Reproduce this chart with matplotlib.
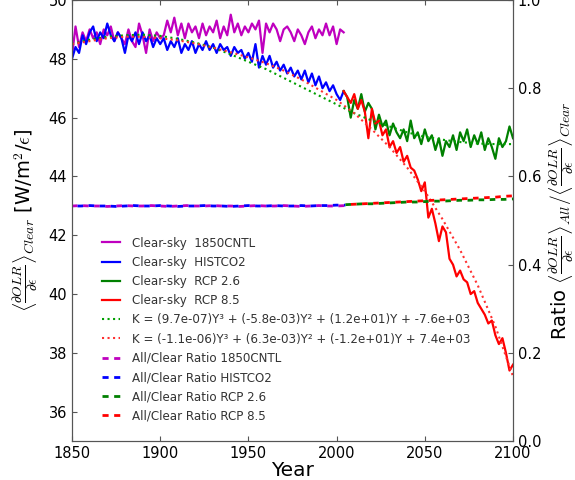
import numpy as np
import matplotlib.pyplot as plt

# clear-sky feedback (2-year steps)
years_hist = np.arange(1850, 2006, 2)
cntl_clear = [48.1, 49.1, 48.4, 48.9, 48.6, 49.0, 48.7, 48.9, 48.5, 49.0,
              48.8, 49.1, 48.6, 48.9, 48.7, 48.5, 49.0, 48.6, 48.4, 49.2,
              48.8, 48.2, 49.0, 48.6, 48.9, 48.7, 48.8, 49.3, 48.9, 49.4,
              48.8, 49.2, 48.7, 49.2, 48.9, 49.1, 48.7, 49.2, 48.8, 49.1,
              48.9, 49.3, 48.7, 49.1, 48.8, 49.5, 48.9, 49.2, 48.8, 49.1,
              48.9, 49.2, 49.0, 49.3, 48.2, 49.2, 48.9, 49.2, 49.0, 48.6,
              49.0, 49.1, 48.9, 48.6, 49.0, 48.8, 48.5, 48.9, 49.1, 48.7,
              49.0, 48.8, 49.2, 48.8, 49.1, 48.5, 49.0, 48.9]
hist_clear = [48.0, 48.4, 48.2, 48.8, 48.5, 48.9, 49.1, 48.6, 48.9, 48.7,
              49.2, 48.8, 48.6, 48.9, 48.7, 48.2, 48.8, 48.6, 48.9, 48.5,
              48.9, 48.6, 48.8, 48.4, 48.7, 48.5, 48.7, 48.3, 48.6, 48.4,
              48.7, 48.2, 48.5, 48.3, 48.6, 48.2, 48.5, 48.3, 48.6, 48.3,
              48.5, 48.2, 48.5, 48.3, 48.4, 48.1, 48.4, 48.2, 48.3, 48.0,
              48.2, 47.9, 48.5, 47.7, 48.1, 47.8, 48.1, 47.7, 47.9, 47.6,
              47.8, 47.5, 47.7, 47.4, 47.6, 47.3, 47.6, 47.2, 47.5, 47.1,
              47.4, 47.0, 47.2, 46.9, 47.1, 46.8, 46.6, 46.9]

years_rcp = np.arange(2004, 2101, 2)
rcp26_clear = [46.9, 46.7, 46.0, 46.6, 46.3, 46.8, 46.2, 46.5, 46.3, 45.6,
               46.1, 45.7, 45.9, 45.4, 45.8, 45.5, 45.3, 45.6, 45.2, 45.9,
               45.3, 45.5, 45.1, 45.6, 45.2, 45.4, 44.9, 45.3, 44.7, 45.2,
               45.0, 45.4, 44.9, 45.5, 45.2, 45.6, 45.0, 45.4, 45.1, 45.5,
               44.9, 45.3, 45.0, 44.6, 45.3, 45.0, 45.2, 45.7, 45.3]
rcp85_clear = [46.9, 46.7, 46.5, 46.8, 46.3, 46.6, 46.2, 45.3, 46.3, 45.8,
               45.9, 45.4, 45.6, 45.0, 45.2, 44.8, 45.0, 44.5, 44.7, 44.3,
               44.2, 43.9, 43.5, 43.8, 42.6, 42.9, 42.4, 41.8, 42.3, 42.1,
               41.2, 41.0, 40.6, 40.8, 40.5, 40.4, 40.0, 40.1, 39.7, 39.5,
               39.3, 39.0, 39.1, 38.6, 38.3, 38.5, 38.0, 37.4, 37.6]

# cubic fits (10-year steps)
years_fit = np.arange(1850, 2101, 10)
fit26 = [48.5, 48.65, 48.75, 48.8, 48.82, 48.78, 48.68, 48.55, 48.38, 48.15,
         47.9, 47.65, 47.35, 47.05, 46.75, 46.45, 46.15, 45.9, 45.7, 45.5,
         45.35, 45.25, 45.17, 45.12, 45.1, 45.1]
fit85 = [48.5, 48.6, 48.7, 48.75, 48.75, 48.7, 48.63, 48.52, 48.38, 48.22,
         48.05, 47.85, 47.6, 47.3, 46.95, 46.6, 46.15, 45.6, 45.0, 44.3,
         43.5, 42.55, 41.5, 40.3, 38.9, 37.2]
fit26_label = 'K = (9.7e-07)Y³ + (-5.8e-03)Y² + (1.2e+01)Y + -7.6e+03'
fit85_label = 'K = (-1.1e-06)Y³ + (6.3e-03)Y² + (-1.2e+01)Y + 7.4e+03'

# all/clear ratio (5-year steps)
years_ratio_hist = np.arange(1850, 2006, 5)
cntl_ratio = [0.533, 0.534, 0.533, 0.533, 0.532, 0.533, 0.534, 0.533,
              0.533, 0.534, 0.533, 0.532, 0.533, 0.534, 0.533, 0.533,
              0.534, 0.533, 0.533, 0.532, 0.533, 0.534, 0.533, 0.533,
              0.534, 0.533, 0.532, 0.533, 0.534, 0.533, 0.533, 0.534]
hist_ratio = [0.533, 0.533, 0.534, 0.533, 0.533, 0.532, 0.533, 0.534,
              0.533, 0.533, 0.534, 0.533, 0.532, 0.533, 0.533, 0.534,
              0.533, 0.533, 0.532, 0.533, 0.534, 0.533, 0.533, 0.534,
              0.533, 0.533, 0.534, 0.533, 0.534, 0.534, 0.535, 0.535]
years_ratio_rcp = np.arange(2005, 2101, 5)
rcp26_ratio = [0.536, 0.537, 0.538, 0.538, 0.539, 0.540, 0.541, 0.542, 0.542, 0.543,
               0.544, 0.544, 0.545, 0.546, 0.546, 0.547, 0.547, 0.548, 0.548, 0.549]
rcp85_ratio = [0.536, 0.537, 0.538, 0.539, 0.540, 0.541, 0.542, 0.543, 0.544, 0.545,
               0.546, 0.547, 0.548, 0.549, 0.550, 0.551, 0.552, 0.553, 0.555, 0.556]

fig = plt.figure(figsize=(5.75, 4.8), dpi=100)
ax = fig.add_axes([0.1252, 0.081, 0.767, 0.919])
ax2 = ax.twinx()

lw = 1.6
h1, = ax.plot(years_hist, cntl_clear, color='#bf00bf', lw=lw, label='Clear-sky  1850CNTL')
h2, = ax.plot(years_hist, hist_clear, color='#0000ff', lw=lw, label='Clear-sky  HISTCO2')
h3, = ax.plot(years_rcp, rcp26_clear, color='#008000', lw=lw, label='Clear-sky  RCP 2.6')
h4, = ax.plot(years_rcp, rcp85_clear, color='#ff0000', lw=lw, label='Clear-sky  RCP 8.5')
h5, = ax.plot(years_fit, fit26, color='#00a000', lw=1.5, ls=':', label=fit26_label)
h6, = ax.plot(years_fit, fit85, color='#ff3030', lw=1.5, ls=':', label=fit85_label)

# ratio dashes offset so overlapping series interleave
h7, = ax2.plot(years_ratio_hist, cntl_ratio, color='#bf00bf', lw=2, ls=(0, (2, 2)),
               label='All/Clear Ratio 1850CNTL')
h8, = ax2.plot(years_ratio_hist, hist_ratio, color='#0000ff', lw=2, ls=(2, (2, 2)),
               label='All/Clear Ratio HISTCO2')
h9, = ax2.plot(years_ratio_rcp, rcp26_ratio, color='#008000', lw=2, ls=(0, (2, 2)),
               label='All/Clear Ratio RCP 2.6')
h10, = ax2.plot(years_ratio_rcp, rcp85_ratio, color='#ff0000', lw=2, ls=(2, (2, 2)),
                label='All/Clear Ratio RCP 8.5')

ax.set_xlim(1850, 2100)
ax.set_ylim(35, 50)
ax2.set_ylim(0, 1)
ax.set_xticks(range(1850, 2101, 50))
ax.set_yticks(range(36, 51, 2))
ax2.set_yticks(np.arange(0, 1.01, 0.2))

ax.tick_params(direction='in', labelsize=10.5, top=True, color='#555555')
ax2.tick_params(direction='in', labelsize=10.5, color='#555555')
for a in (ax, ax2):
    for s in a.spines.values():
        s.set_color('#555555')

ax.set_xlabel('Year', fontsize=14.5, labelpad=0)
ax.set_ylabel(r'$\left\langle\frac{\partial OLR}{\partial\epsilon}\right\rangle_{Clear}$ [W/m$^2$/$\epsilon$]',
              fontsize=14, math_fontfamily='cm', labelpad=6)
ax2.set_ylabel(r'Ratio $\left\langle\frac{\partial OLR}{\partial\epsilon}\right\rangle_{All}'
               r'/\left\langle\frac{\partial OLR}{\partial\epsilon}\right\rangle_{Clear}$',
               fontsize=14, math_fontfamily='cm', labelpad=4)

handles = [h1, h2, h3, h4, h5, h6, h7, h8, h9, h10]
leg = ax2.legend(handles=handles, loc='lower left', bbox_to_anchor=(0.043, 0.018),
                 frameon=False, fontsize=8.6, labelspacing=0.52, handlelength=1.5,
                 handletextpad=1.0, labelcolor='#333333')
for line in leg.get_lines()[6:]:
    line.set_linestyle((0, (2.2, 2.0)))

fig.savefig('out.png', dpi=100)
